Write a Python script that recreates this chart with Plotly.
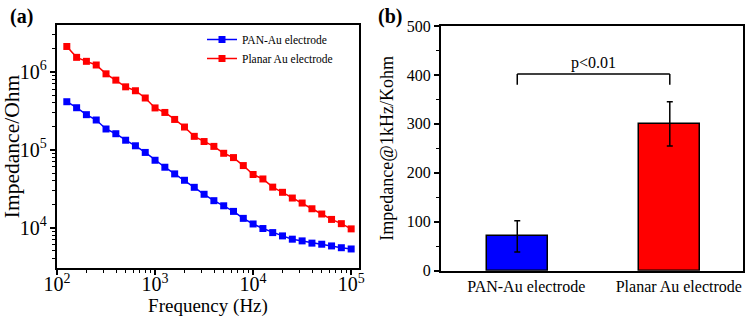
import plotly.graph_objects as go

# ---- data ----
log_freq = [2.1, 2.2, 2.3, 2.4, 2.5, 2.6, 2.7, 2.8, 2.9, 3.0,
            3.1, 3.2, 3.3, 3.4, 3.5, 3.6, 3.7, 3.8, 3.9, 4.0,
            4.1, 4.2, 4.3, 4.4, 4.5, 4.6, 4.7, 4.8, 4.9, 5.0]
frequency = [round(10 ** v, 1) for v in log_freq]

pan_au = [4.12e5, 3.45e5, 2.81e5, 2.40e5, 1.84e5, 1.60e5, 1.32e5, 1.12e5, 9.2e4, 7.3e4,
          5.94e4, 4.88e4, 4.04e4, 3.28e4, 2.67e4, 2.21e4, 1.90e4, 1.61e4, 1.31e4, 1.11e4,
          9.7e3, 8.6e3, 7.8e3, 7.08e3, 6.73e3, 6.3e3, 6.1e3, 5.8e3, 5.5e3, 5.3e3]
planar_au = [2.11e6, 1.53e6, 1.36e6, 1.22e6, 9.4e5, 7.8e5, 6.4e5, 5.7e5, 4.6e5, 3.43e5,
             3.0e5, 2.44e5, 1.95e5, 1.48e5, 1.27e5, 1.10e5, 8.97e4, 7.9e4, 6.24e4, 4.79e4,
             4.2e4, 3.3e4, 2.83e4, 2.39e4, 2.06e4, 1.74e4, 1.49e4, 1.27e4, 1.12e4, 9.6e3]

bar_categories = ["PAN-Au electrode", "Planar Au electrode"]
bar_values = [70, 300]
bar_errors = [32, 45]
bar_colors = ["#0000FF", "#FF0000"]

p_text = "p<0.01"
bracket_top = 402
bracket_bottom = 380
p_label_y = 425

FONT = "Liberation Serif"

fig = go.Figure()

fig.add_trace(go.Scatter(
    x=frequency, y=pan_au, mode="lines+markers", name="PAN-Au electrode",
    line=dict(color="#0000FF", width=1.5),
    marker=dict(symbol="square", size=7, color="#0000FF"),
    xaxis="x", yaxis="y"))
fig.add_trace(go.Scatter(
    x=frequency, y=planar_au, mode="lines+markers", name="Planar Au electrode",
    line=dict(color="#FF0000", width=1.5),
    marker=dict(symbol="square", size=7, color="#FF0000"),
    xaxis="x", yaxis="y"))

fig.add_trace(go.Bar(
    x=bar_categories, y=bar_values, width=0.4,
    marker=dict(color=bar_colors, line=dict(color="black", width=1.5)),
    error_y=dict(type="data", array=bar_errors, color="black", thickness=1.5, width=3),
    showlegend=False, xaxis="x2", yaxis="y2"))

W, H = 749, 321

axis_common = dict(
    showline=True, linecolor="black", linewidth=2, mirror=True,
    showgrid=False, zeroline=False, ticks="outside", tickcolor="black",
    tickwidth=1.5, automargin=False,
    tickfont=dict(family=FONT, size=16, color="black"),
)

fig.update_layout(
    width=W, height=H,
    margin=dict(l=0, r=0, t=0, b=0),
    paper_bgcolor="white", plot_bgcolor="white",
    font=dict(family=FONT, color="black"),
    xaxis=dict(
        **axis_common, type="log", range=[2, 5.08],
        domain=[57 / W, 359 / W], anchor="y",
        dtick=1, exponentformat="power", ticklen=5, ticklabelstandoff=-7,
        minor=dict(dtick="D1", ticks="outside", ticklen=3, tickcolor="black", tickwidth=1.2),
        title=dict(text="Frequency (Hz)", font=dict(family=FONT, size=19, color="black"), standoff=2),
    ),
    yaxis=dict(
        **axis_common, type="log", range=[3.48, 6.60],
        domain=[1 - 268 / H, 1 - 25 / H], anchor="x",
        dtick=1, exponentformat="power", ticklen=5,
        minor=dict(dtick="D1", ticks="outside", ticklen=3, tickcolor="black", tickwidth=1.2),
        title=dict(text="Impedance/Ohm", font=dict(family=FONT, size=21.5, color="black"), standoff=6),
    ),
    xaxis2=dict(
        showline=True, linecolor="black", linewidth=2, mirror=True,
        showgrid=False, zeroline=False, ticks="", automargin=False,
        tickfont=dict(family=FONT, size=16, color="black"),
        range=[-0.5, 1.48], domain=[441 / W, 743 / W], anchor="y2",
        ticklabelshift=9,
    ),
    yaxis2=dict(
        **axis_common, range=[0, 500], dtick=100, ticklen=5,
        domain=[1 - 270.7 / H, 1 - 26 / H], anchor="x2",
        minor=dict(dtick=50, ticks="outside", ticklen=3, tickcolor="black", tickwidth=1.2),
        title=dict(text="Impedance@1kHz/Kohm", font=dict(family=FONT, size=18, color="black"), standoff=8),
    ),
    legend=dict(
        x=202 / W, y=1 - 25 / H, xanchor="left", yanchor="top",
        bgcolor="rgba(0,0,0,0)", font=dict(family=FONT, size=11.5, color="black"),
        itemwidth=30, tracegroupgap=0,
    ),
    bargap=0,
)

# significance bracket
fig.add_shape(type="line", xref="x2", yref="y2", x0=0, x1=0, y0=bracket_bottom, y1=bracket_top,
              line=dict(color="black", width=1.5))
fig.add_shape(type="line", xref="x2", yref="y2", x0=0, x1=1, y0=bracket_top, y1=bracket_top,
              line=dict(color="black", width=1.5))
fig.add_shape(type="line", xref="x2", yref="y2", x0=1, x1=1, y0=bracket_bottom, y1=bracket_top,
              line=dict(color="black", width=1.5))
fig.add_annotation(x=0.5, y=p_label_y, xref="x2", yref="y2", text=p_text, showarrow=False,
                   font=dict(family=FONT, size=16, color="black"))

# panel labels
fig.add_annotation(x=8 / W, y=1 - 3 / H, xref="paper", yref="paper", xanchor="left", yanchor="top",
                   text="<b>(a)</b>", showarrow=False, font=dict(family=FONT, size=20, color="black"))
fig.add_annotation(x=376 / W, y=1 - 3 / H, xref="paper", yref="paper", xanchor="left", yanchor="top",
                   text="<b>(b)</b>", showarrow=False, font=dict(family=FONT, size=20, color="black"))

fig.write_html("out.html", config={"displayModeBar": False},
               post_script="document.body.style.margin='0';document.body.style.overflow='hidden';")
